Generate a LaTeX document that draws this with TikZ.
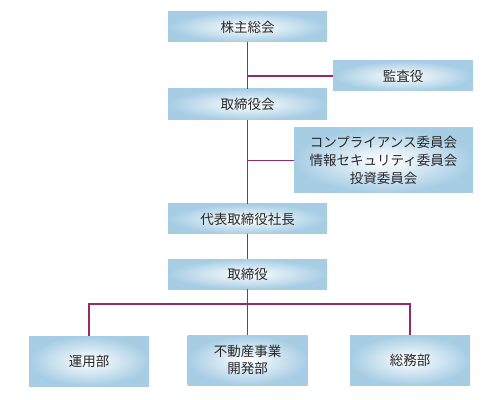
\documentclass[tikz,border=0pt]{standalone}
\usepackage{fontspec}
\setmainfont{Noto Sans CJK JP}
\usepackage{xcolor}
\definecolor{orgline}{RGB}{155,40,100}
\definecolor{orgblue}{RGB}{166,205,228}
\definecolor{orgtext}{RGB}{40,40,40}
\usetikzlibrary{positioning, calc}

\begin{document}
\begin{tikzpicture}[
  x=0.025cm, y=-0.025cm,
  unit/.style={rectangle, inner color=white, outer color=orgblue, minimum width=159*0.025cm, minimum height=30*0.025cm, align=center, text=orgtext, font=\fontsize{9.6}{12.6}\selectfont, inner sep=0pt},
  dept/.style={unit, minimum width=120*0.025cm, minimum height=50*0.025cm},
  link/.style={draw=orgline, line width=0.75pt}
]
\useasboundingbox (0,0) rectangle (500,400);

% Nodes
\node[unit] (meeting) at (247.5,27) {株主総会};
\node[unit, minimum width=140*0.025cm] (audit) at (403,76) {監査役};
\node[unit, minimum height=31*0.025cm] (board) at (247.5,104.5) {取締役会};
\node[unit, minimum width=179*0.025cm, minimum height=65*0.025cm] (committee) at (383.5,160.5) {コンプライアンス委員会\\情報セキュリティ委員会\\投資委員会};
\node[unit] (president) at (247.5,219) {代表取締役社長};
\node[unit] (directors) at (247.5,274) {取締役};
\node[dept] (ops) at (89,361) {運用部};
\node[dept] (estate) at (247.5,360) {不動産事業\\開発部};
\node[dept] (admin) at (410,360) {総務部};
\coordinate (split) at (247.5,304);

% Links
\draw[link] (meeting) -- (board);
\draw[link] (meeting.south |- audit.west) -- (audit.west);
\draw[link] (board) -- (president);
\draw[link] (board.south |- committee.west) -- (committee.west);
\draw[link] (president) -- (directors);
\draw[link] (directors) -- (estate);
\draw[link] (split) -| (ops.north);
\draw[link] (split) -| (admin.north);

\end{tikzpicture}
\end{document}
